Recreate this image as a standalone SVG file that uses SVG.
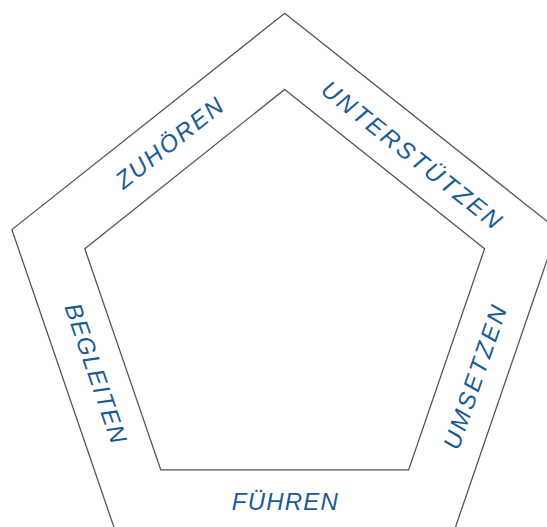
<svg xmlns="http://www.w3.org/2000/svg" width="547" height="527" viewBox="0 0 547 527">
<style>
.edge{fill:none;stroke:#555;stroke-width:1.3;stroke-linejoin:miter}
.lbl{font-family:"Liberation Sans","DejaVu Sans",sans-serif;font-style:italic;font-size:24px;fill:#1a5b96;text-anchor:middle}
</style>
<rect width="547" height="527" fill="#fff"/>
<g id="outer-pentagon">
<polygon class="edge" points="284.7,13.3 557.5,229.6 453.7,532.3 115.7,532.3 11.9,229.6"/>
</g>
<g id="inner-pentagon">
<polygon class="edge" points="284.7,89.4 484.6,248.7 408.6,469.9 160.8,469.9 84.8,248.7"/>
</g>
<g id="zuhoeren"><text class="lbl" transform="translate(169.2,142.9) rotate(-38.4)" y="8.5" textLength="130" lengthAdjust="spacing">ZUHÖREN</text></g>
<g id="unterstuetzen"><text class="lbl" transform="translate(411.7,154.6) rotate(38.4)" y="8.5" textLength="222" lengthAdjust="spacing">UNTERSTÜTZEN</text></g>
<g id="umsetzen"><text class="lbl" transform="translate(474.7,377.4) rotate(-71.1)" y="8.5" textLength="150" lengthAdjust="spacing">UMSETZEN</text></g>
<g id="fuehren"><text class="lbl" x="284.8" y="509.5" textLength="106" lengthAdjust="spacing">FÜHREN</text></g>
<g id="begleiten"><text class="lbl" transform="translate(96,373) rotate(71.1)" y="8.5" textLength="146" lengthAdjust="spacing">BEGLEITEN</text></g>
</svg>
